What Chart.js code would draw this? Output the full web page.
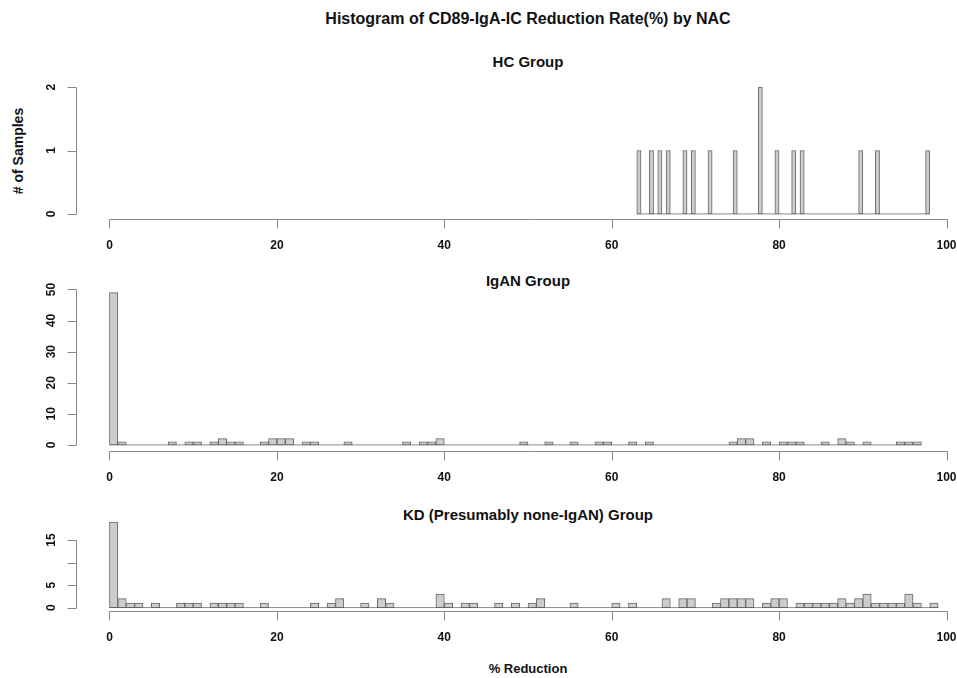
<!DOCTYPE html>
<html>
<head>
<meta charset="utf-8">
<script src="https://cdn.jsdelivr.net/npm/chart.js@4.4.0/dist/chart.umd.min.js"></script>
<style>
  body { margin: 0; width: 957px; height: 678px; overflow: hidden; background: #fff;
         font-family: "Liberation Sans", Arial, sans-serif; position: relative; }
  canvas { position: absolute; left: 0; }
  .txt { position: absolute; font-weight: bold; color: #111; white-space: nowrap;
         transform: translate(-50%, -50%); }
</style>
</head>
<body>
<div class="txt" style="left:528px;top:19px;font-size:16px">Histogram of CD89-IgA-IC Reduction Rate(%) by NAC</div>
<div class="txt" style="left:18px;top:151px;font-size:14px;transform:translate(-50%,-50%) rotate(-90deg)"># of Samples</div>
<div class="txt" style="left:528px;top:668px;font-size:13px">% Reduction</div>
<div class="txt" style="left:528px;top:61px;font-size:15px">HC Group</div>
<div class="txt" style="left:528px;top:280px;font-size:15px">IgAN Group</div>
<div class="txt" style="left:528px;top:514px;font-size:15px">KD (Presumably none-IgAN) Group</div>
<canvas id="hc" width="1000" height="230" style="top:40px"></canvas>
<canvas id="igan" width="1000" height="232" style="top:268px"></canvas>
<canvas id="kd" width="1000" height="178" style="top:500px"></canvas>
<script>
// x axis ticks shared by all panels
const xTicks = [0, 20, 40, 60, 80, 100];

// HC group: bins of 0.5 from 63 to 98
const hcStart = 63, hcBin = 0.5;
const hcCounts = [
  1, 0, 0, 1, 0, 1, 0, 1, 0, 0,
  0, 1, 0, 1, 0, 0, 0, 1, 0, 0,
  0, 0, 0, 1, 0, 0, 0, 0, 0, 2,
  0, 0, 0, 1, 0, 0, 0, 1, 0, 1,
  0, 0, 0, 0, 0, 0, 0, 0, 0, 0,
  0, 0, 0, 1, 0, 0, 0, 1, 0, 0,
  0, 0, 0, 0, 0, 0, 0, 0, 0, 1
];
const hcYTicks = [0, 1, 2];
const hcYLabels = ["0", "1", "2"];

// IgAN group: bins of 1 from 0 to 97
const iganStart = 0, iganBin = 1;
const iganCounts = [
  49, 1, 0, 0, 0, 0, 0, 1, 0, 1,
  1, 0, 1, 2, 1, 1, 0, 0, 1, 2,
  2, 2, 0, 1, 1, 0, 0, 0, 1, 0,
  0, 0, 0, 0, 0, 1, 0, 1, 1, 2,
  0, 0, 0, 0, 0, 0, 0, 0, 0, 1,
  0, 0, 1, 0, 0, 1, 0, 0, 1, 1,
  0, 0, 1, 0, 1, 0, 0, 0, 0, 0,
  0, 0, 0, 0, 1, 2, 2, 0, 1, 0,
  1, 1, 1, 0, 0, 1, 0, 2, 1, 0,
  1, 0, 0, 0, 1, 1, 1
];
const iganYTicks = [0, 10, 20, 30, 40, 50];
const iganYLabels = ["0", "10", "20", "30", "40", "50"];

// KD group: bins of 1 from 0 to 99
const kdStart = 0, kdBin = 1;
const kdCounts = [
  19, 2, 1, 1, 0, 1, 0, 0, 1, 1,
  1, 0, 1, 1, 1, 1, 0, 0, 1, 0,
  0, 0, 0, 0, 1, 0, 1, 2, 0, 0,
  1, 0, 2, 1, 0, 0, 0, 0, 0, 3,
  1, 0, 1, 1, 0, 0, 1, 0, 1, 0,
  1, 2, 0, 0, 0, 1, 0, 0, 0, 0,
  1, 0, 1, 0, 0, 0, 2, 0, 2, 2,
  0, 0, 1, 2, 2, 2, 2, 0, 1, 2,
  2, 0, 1, 1, 1, 1, 1, 2, 1, 2,
  3, 1, 1, 1, 1, 3, 1, 0, 1
];
const kdYTicks = [0, 5, 10, 15];
const kdYLabels = ["0", "5", "", "15"];

const AXIS = '#8a8a8a';
const FONT = 'bold 12px "Liberation Sans", Arial, sans-serif';

const rAxes = {
  id: 'rAxes',
  afterDraw(chart) {
    const { ctx, chartArea: a, scales: { x, y } } = chart;
    const o = chart.options.plugins.rAxes;
    ctx.save();
    ctx.strokeStyle = AXIS;
    ctx.lineWidth = 1;
    ctx.fillStyle = '#111';
    ctx.font = FONT;
    // x axis, R style: only from first to last tick
    const yb = Math.round(a.bottom) + 0.5;
    ctx.beginPath();
    ctx.moveTo(Math.round(x.getPixelForValue(xTicks[0])) + 0.5, yb);
    ctx.lineTo(Math.round(x.getPixelForValue(xTicks[xTicks.length - 1])) + 0.5, yb);
    xTicks.forEach(v => {
      const px = Math.round(x.getPixelForValue(v)) + 0.5;
      ctx.moveTo(px, yb);
      ctx.lineTo(px, yb + 9);
    });
    ctx.stroke();
    ctx.textAlign = 'center';
    ctx.textBaseline = 'middle';
    xTicks.forEach(v => ctx.fillText(String(v), x.getPixelForValue(v), yb + 26));
    // y axis
    const xl = Math.round(a.left) + 0.5;
    ctx.beginPath();
    ctx.moveTo(xl, Math.round(y.getPixelForValue(o.ticks[0])) + 0.5);
    ctx.lineTo(xl, Math.round(y.getPixelForValue(o.ticks[o.ticks.length - 1])) + 0.5);
    o.ticks.forEach(v => {
      const py = Math.round(y.getPixelForValue(v)) + 0.5;
      ctx.moveTo(xl, py);
      ctx.lineTo(xl - 9, py);
    });
    ctx.stroke();
    o.ticks.forEach((v, i) => {
      ctx.save();
      ctx.translate(xl - 25, y.getPixelForValue(v));
      ctx.rotate(-Math.PI / 2);
      ctx.fillText(o.labels[i], 0, 0);
      ctx.restore();
    });
    ctx.restore();
  }
};

function histogram(id, start, bin, counts, yTicks, yLabels, pad) {
  const bars = counts.map((c, i) => ({ x: start + (i + 0.5) * bin, y: c }));
  const ymax = Math.max(...counts);
  new Chart(document.getElementById(id), {
    type: 'bar',
    data: {
      datasets: [
        {
          type: 'line',
          data: [{ x: start, y: 0 }, { x: start + counts.length * bin, y: 0 }],
          borderColor: '#8c8c8c',
          borderWidth: 1,
          pointRadius: 0,
          order: 2
        },
        {
          data: bars,
          backgroundColor: '#cdcdcd',
          borderColor: '#666666',
          borderWidth: 1,
          borderSkipped: false,
          barPercentage: 1,
          categoryPercentage: 1,
          order: 1
        }
      ]
    },
    options: {
      responsive: false,
      animation: false,
      devicePixelRatio: 1,
      layout: { padding: { left: 76, right: 20, top: pad[0], bottom: pad[1] } },
      scales: {
        x: { type: 'linear', min: -4, max: 104, offset: false, display: false },
        y: { min: -0.04 * ymax, max: 1.04 * ymax, display: false }
      },
      plugins: {
        legend: { display: false },
        tooltip: { enabled: false },
        rAxes: { ticks: yTicks, labels: yLabels }
      }
    },
    plugins: [rAxes]
  });
}

histogram('hc', hcStart, hcBin, hcCounts, hcYTicks, hcYLabels, [42, 51]);
histogram('igan', iganStart, iganBin, iganCounts, iganYTicks, iganYLabels, [18.5, 49]);
histogram('kd', kdStart, kdBin, kdCounts, kdYTicks, kdYLabels, [18.6, 67]);
</script>
</body>
</html>
